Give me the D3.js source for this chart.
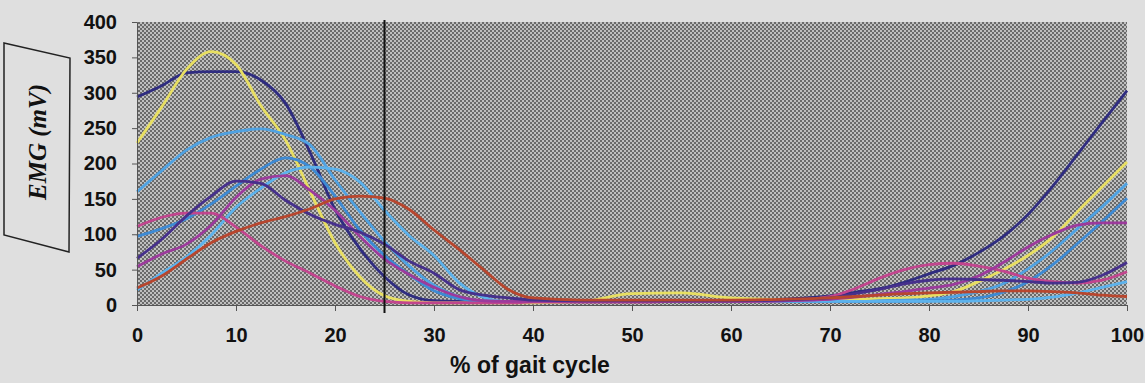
<!DOCTYPE html>
<html><head><meta charset="utf-8">
<script src="https://cdn.jsdelivr.net/npm/d3@7"></script>
<style>
html,body{margin:0;padding:0;background:#dfdfdf;}
svg{display:block;}
</style></head>
<body>
<svg id="chart" width="1145" height="383"></svg>
<script>
// ---- data ----
const gaitPct = [0,2.5,5,7.5,10,12.5,15,17.5,20,22.5,25,27.5,30,32.5,35,37.5,40,45,50,55,60,65,70,72.5,75,77.5,80,82.5,85,87.5,90,92.5,95,97.5,100];
const navy    = [294,310,328,330,330,318,285,215,135,80,40,14,6,5,5,5,5,5,5,5,5,8,13,18,23,32,44,56,74,97,128,168,213,258,303];
const yellow  = [229,280,333,358,340,282,233,160,88,40,13,5,3,3,3,3,3,5,16,17,10,8,8,8,9,10,13,19,33,50,70,96,132,167,202];
const lightBlue=[160,190,219,237,245,249,241,226,177,132,90,55,28,12,6,5,5,5,5,5,5,5,5,5,6,7,8,12,19,30,51,77,108,139,172];
const blueB   = [97,108,122,143,168,192,208,195,154,106,70,43,20,9,5,5,5,5,5,5,5,5,5,5,5,5,6,7,10,18,33,57,87,118,151];
const blueC   = [21,45,68,99,138,165,187,195,192,174,134,98,70,32,11,5,5,5,5,5,5,5,5,5,5,5,5,5,6,7,8,11,17,25,33];
const magentaA= [111,124,130,130,110,84,62,45,27,12,5,3,3,3,3,3,4,4,4,5,5,6,12,23,38,50,57,59,55,48,38,33,31,35,47];
const magentaB= [54,72,86,113,152,178,183,162,134,97,65,43,25,12,6,5,5,5,5,5,5,6,8,11,15,19,24,29,41,60,82,100,113,116,116];
const purple  = [66,93,126,154,175,172,148,128,114,103,86,62,45,22,14,10,7,6,6,6,6,7,10,16,22,30,35,37,36,35,33,31,32,42,60];
const red     = [24,41,65,88,104,116,125,136,150,154,151,135,106,79,50,22,10,7,7,7,7,8,10,12,14,16,17,18,19,20,20,19,17,14,12];
const seriesNames  = ["navy","yellow","lightBlue","blueB","blueC","magentaA","magentaB","purple","red"];
const seriesValues = [navy,yellow,lightBlue,blueB,blueC,magentaA,magentaB,purple,red];
const seriesColors = ["#2f2c80","#e8df62","#4fa2e2","#3d8ad4","#5cb2ec","#c2458e","#9c3a9c","#46308c","#b8462e"];
const xTicks = [0,10,20,30,40,50,60,70,80,90,100];
const yTicks = [0,50,100,150,200,250,300,350,400];
const markerX = 25;
const xTitle = "% of gait cycle";
const yTitle = "EMG (mV)";

// ---- layout ----
const svg = d3.select("#chart");
const L = 137, R = 1127, T = 22, B = 305;
const x = d3.scaleLinear().domain([0,100]).range([L,R]);
const y = d3.scaleLinear().domain([0,400]).range([B,T]);

// checker pattern
const defs = svg.append("defs");
const pat = defs.append("pattern").attr("id","chk").attr("patternUnits","userSpaceOnUse")
  .attr("width",4).attr("height",4);
pat.append("rect").attr("width",4).attr("height",4).attr("fill","#bfbfbf");
pat.append("rect").attr("x",0).attr("y",0).attr("width",2).attr("height",2).attr("fill","#6a6a6a");
pat.append("rect").attr("x",2).attr("y",2).attr("width",2).attr("height",2).attr("fill","#6a6a6a");

svg.append("rect").attr("x",L).attr("y",T).attr("width",R-L).attr("height",B-T).attr("fill","url(#chk)");

// lines
const line = d3.line().x((d,i)=>x(gaitPct[i])).y(d=>y(d)).curve(d3.curveMonotoneX);
svg.append("g").selectAll("path").data(seriesValues).join("path")
  .attr("d",line).attr("fill","none")
  .attr("stroke",(d,i)=>seriesColors[i]).attr("stroke-width",2.8)
  .attr("stroke-linejoin","round");

// axes
const fontT = "'Liberation Sans', Arial, sans-serif";
const xAxis = svg.append("g").attr("transform",`translate(0,${B})`)
  .call(d3.axisBottom(x).tickValues(xTicks).tickSize(6).tickPadding(17).tickFormat(d3.format("d")));
const yAxis = svg.append("g").attr("transform",`translate(${L},0)`)
  .call(d3.axisLeft(y).tickValues(yTicks).tickSize(5).tickPadding(15).tickFormat(d3.format("d")));
[xAxis,yAxis].forEach(a=>{
  a.select(".domain").attr("stroke","#555").attr("stroke-width",1);
  a.selectAll(".tick line").attr("stroke","#555");
  a.selectAll("text").attr("fill","#111").style("font-family",fontT).style("font-weight","bold").style("font-size","20px");
});

// vertical marker
svg.append("line").attr("x1",x(markerX)).attr("x2",x(markerX)).attr("y1",T-2).attr("y2",B+8)
  .attr("stroke","#111").attr("stroke-width",2);

// x title
svg.append("text").attr("x",530).attr("y",373).attr("text-anchor","middle")
  .style("font-family",fontT).style("font-weight","bold").style("font-size","23px").attr("fill","#111")
  .text(xTitle);

// y title box
svg.append("polygon").attr("points","4,43 70,58 69,252 4,235")
  .attr("fill","none").attr("stroke","#222").attr("stroke-width",1.5);
svg.append("text").attr("transform","translate(46,142) rotate(-90)").attr("text-anchor","middle")
  .style("font-family","'Liberation Serif','Times New Roman',serif").style("font-weight","bold")
  .style("font-style","italic").style("font-size","25px").attr("fill","#111").text(yTitle);
</script>
</body></html>
